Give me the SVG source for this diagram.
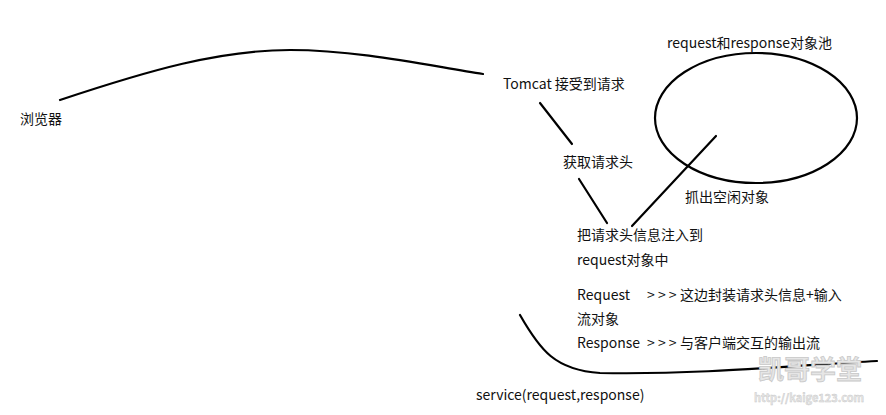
<svg xmlns="http://www.w3.org/2000/svg" width="886" height="415" viewBox="0 0 886 415">
<style>
text{font-family:"Noto Sans CJK SC","Noto Sans",sans-serif;font-size:14px;fill:#111}
.ln{fill:none;stroke:#000;stroke-width:2.2;stroke-linecap:round}
.wm{fill:#e6e6e6;stroke:#c8c8c8;stroke-width:0.8;font-weight:bold}
</style>
<rect width="886" height="415" fill="#fff"/>
<g id="connectors">
<path class="ln" d="M60,100 C150,70 220,50 290,50 C360,50 430,66 483,74"/>
<path class="ln" d="M540,103 L572,144"/>
<path class="ln" d="M579,179 L607,223"/>
<path class="ln" d="M716,136 L632,226"/>
<path class="ln" d="M520,315 C540,350 555,370 600,373 C700,375 800,365 877,361"/>
</g>
<g id="browser"><text x="20" y="124">浏览器</text></g>
<g id="tomcat"><text x="503" y="89">Tomcat 接受到请求</text></g>
<g id="pool">
<ellipse cx="756" cy="118" rx="101" ry="65" fill="none" stroke="#000" stroke-width="2.2"/>
<text x="667" y="48">request和response对象池</text>
</g>
<g id="getHeader"><text x="563" y="167">获取请求头</text></g>
<g id="grab"><text x="685" y="202">抓出空闲对象</text></g>
<g id="inject">
<text x="577" y="240">把请求头信息注入到</text>
<text x="577" y="265">request对象中</text>
</g>
<g id="desc">
<text x="577" y="300">Request<tspan x="647">&gt; &gt; &gt;</tspan><tspan x="680">这边封装请求头信息+输入</tspan></text>
<text x="577" y="324">流对象</text>
<text x="577" y="348">Response<tspan x="647">&gt; &gt; &gt;</tspan><tspan x="680">与客户端交互的输出流</tspan></text>
</g>
<g id="service"><text x="476" y="400">service(request,response)</text></g>
<g id="watermark">
<text class="wm" x="758" y="379" style="font-size:26px">凯哥学堂</text>
<text class="wm" x="754" y="402" style="font-size:11px;stroke-width:0.4">http://kaige123.com</text>
</g>
</svg>
